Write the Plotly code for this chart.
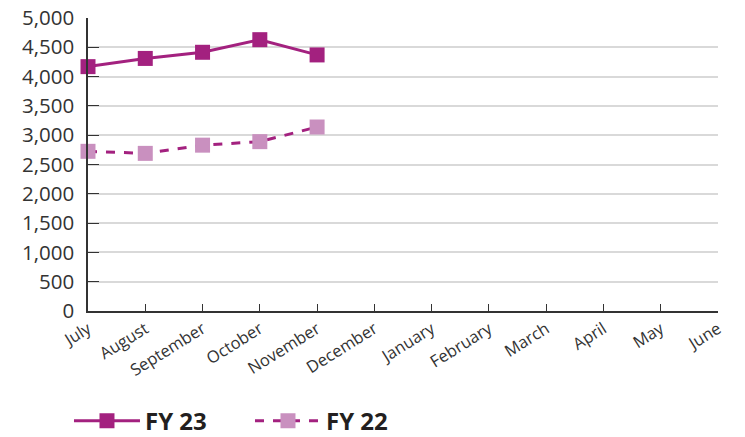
import plotly.graph_objects as go

months = ["July", "August", "September", "October", "November", "December",
          "January", "February", "March", "April", "May", "June"]
fy23 = [4170, 4310, 4415, 4630, 4370]
fy22 = [2725, 2690, 2830, 2890, 3140]
y_ticks = [0, 500, 1000, 1500, 2000, 2500, 3000, 3500, 4000, 4500, 5000]

pos = list(range(len(months)))
font = "Open Sans"

fig = go.Figure()
fig.add_trace(go.Scatter(
    x=pos[:len(fy23)], y=fy23, name="<b>FY 23</b>", mode="lines+markers",
    line=dict(color="#A3217F", width=3),
    marker=dict(symbol="square", size=15, color="#A3217F"),
    cliponaxis=False,
))
fig.add_trace(go.Scatter(
    x=pos[:len(fy22)], y=fy22, name="<b>FY 22</b>", mode="lines+markers",
    line=dict(color="#A3217F", width=3, dash="dash"),
    marker=dict(symbol="square", size=15, color="#C990BF"),
    cliponaxis=False,
))

fig.update_layout(
    width=745, height=437,
    margin=dict(l=88, r=27, t=18, b=126),
    paper_bgcolor="white", plot_bgcolor="white",
    font=dict(family=font, color="#333333"),
    showlegend=True,
    legend=dict(orientation="h", xref="container", yref="container",
                x=0.0926, xanchor="left", y=0.036, yanchor="middle",
                font=dict(size=24, color="#231F20"), itemwidth=66,
                traceorder="normal", entrywidth=100),
)
fig.update_xaxes(
    range=[0, len(months) - 1], tickvals=pos, ticktext=months,
    tickangle=-32, tickfont=dict(size=16.5), showgrid=False,
    showline=True, linecolor="#333333", linewidth=2,
    ticks="inside", ticklen=7, tickcolor="#333333", zeroline=False,
    automargin=False, ticklabeloverflow="allow",
)
fig.update_yaxes(
    range=[0, 5000], tickvals=y_ticks,
    ticktext=[f"{v:,}" for v in y_ticks],
    tickfont=dict(size=20.5), showgrid=True, gridcolor="#D9D9D9", gridwidth=1.5,
    showline=True, linecolor="#333333", linewidth=1.5,
    ticks="inside", ticklen=11, tickcolor="#333333", zeroline=False,
    automargin=False, ticklabelstandoff=8, ticklabeloverflow="allow",
)

fig.write_html("out.html", config={"displayModeBar": False},
               post_script="document.body.style.margin='0';")
